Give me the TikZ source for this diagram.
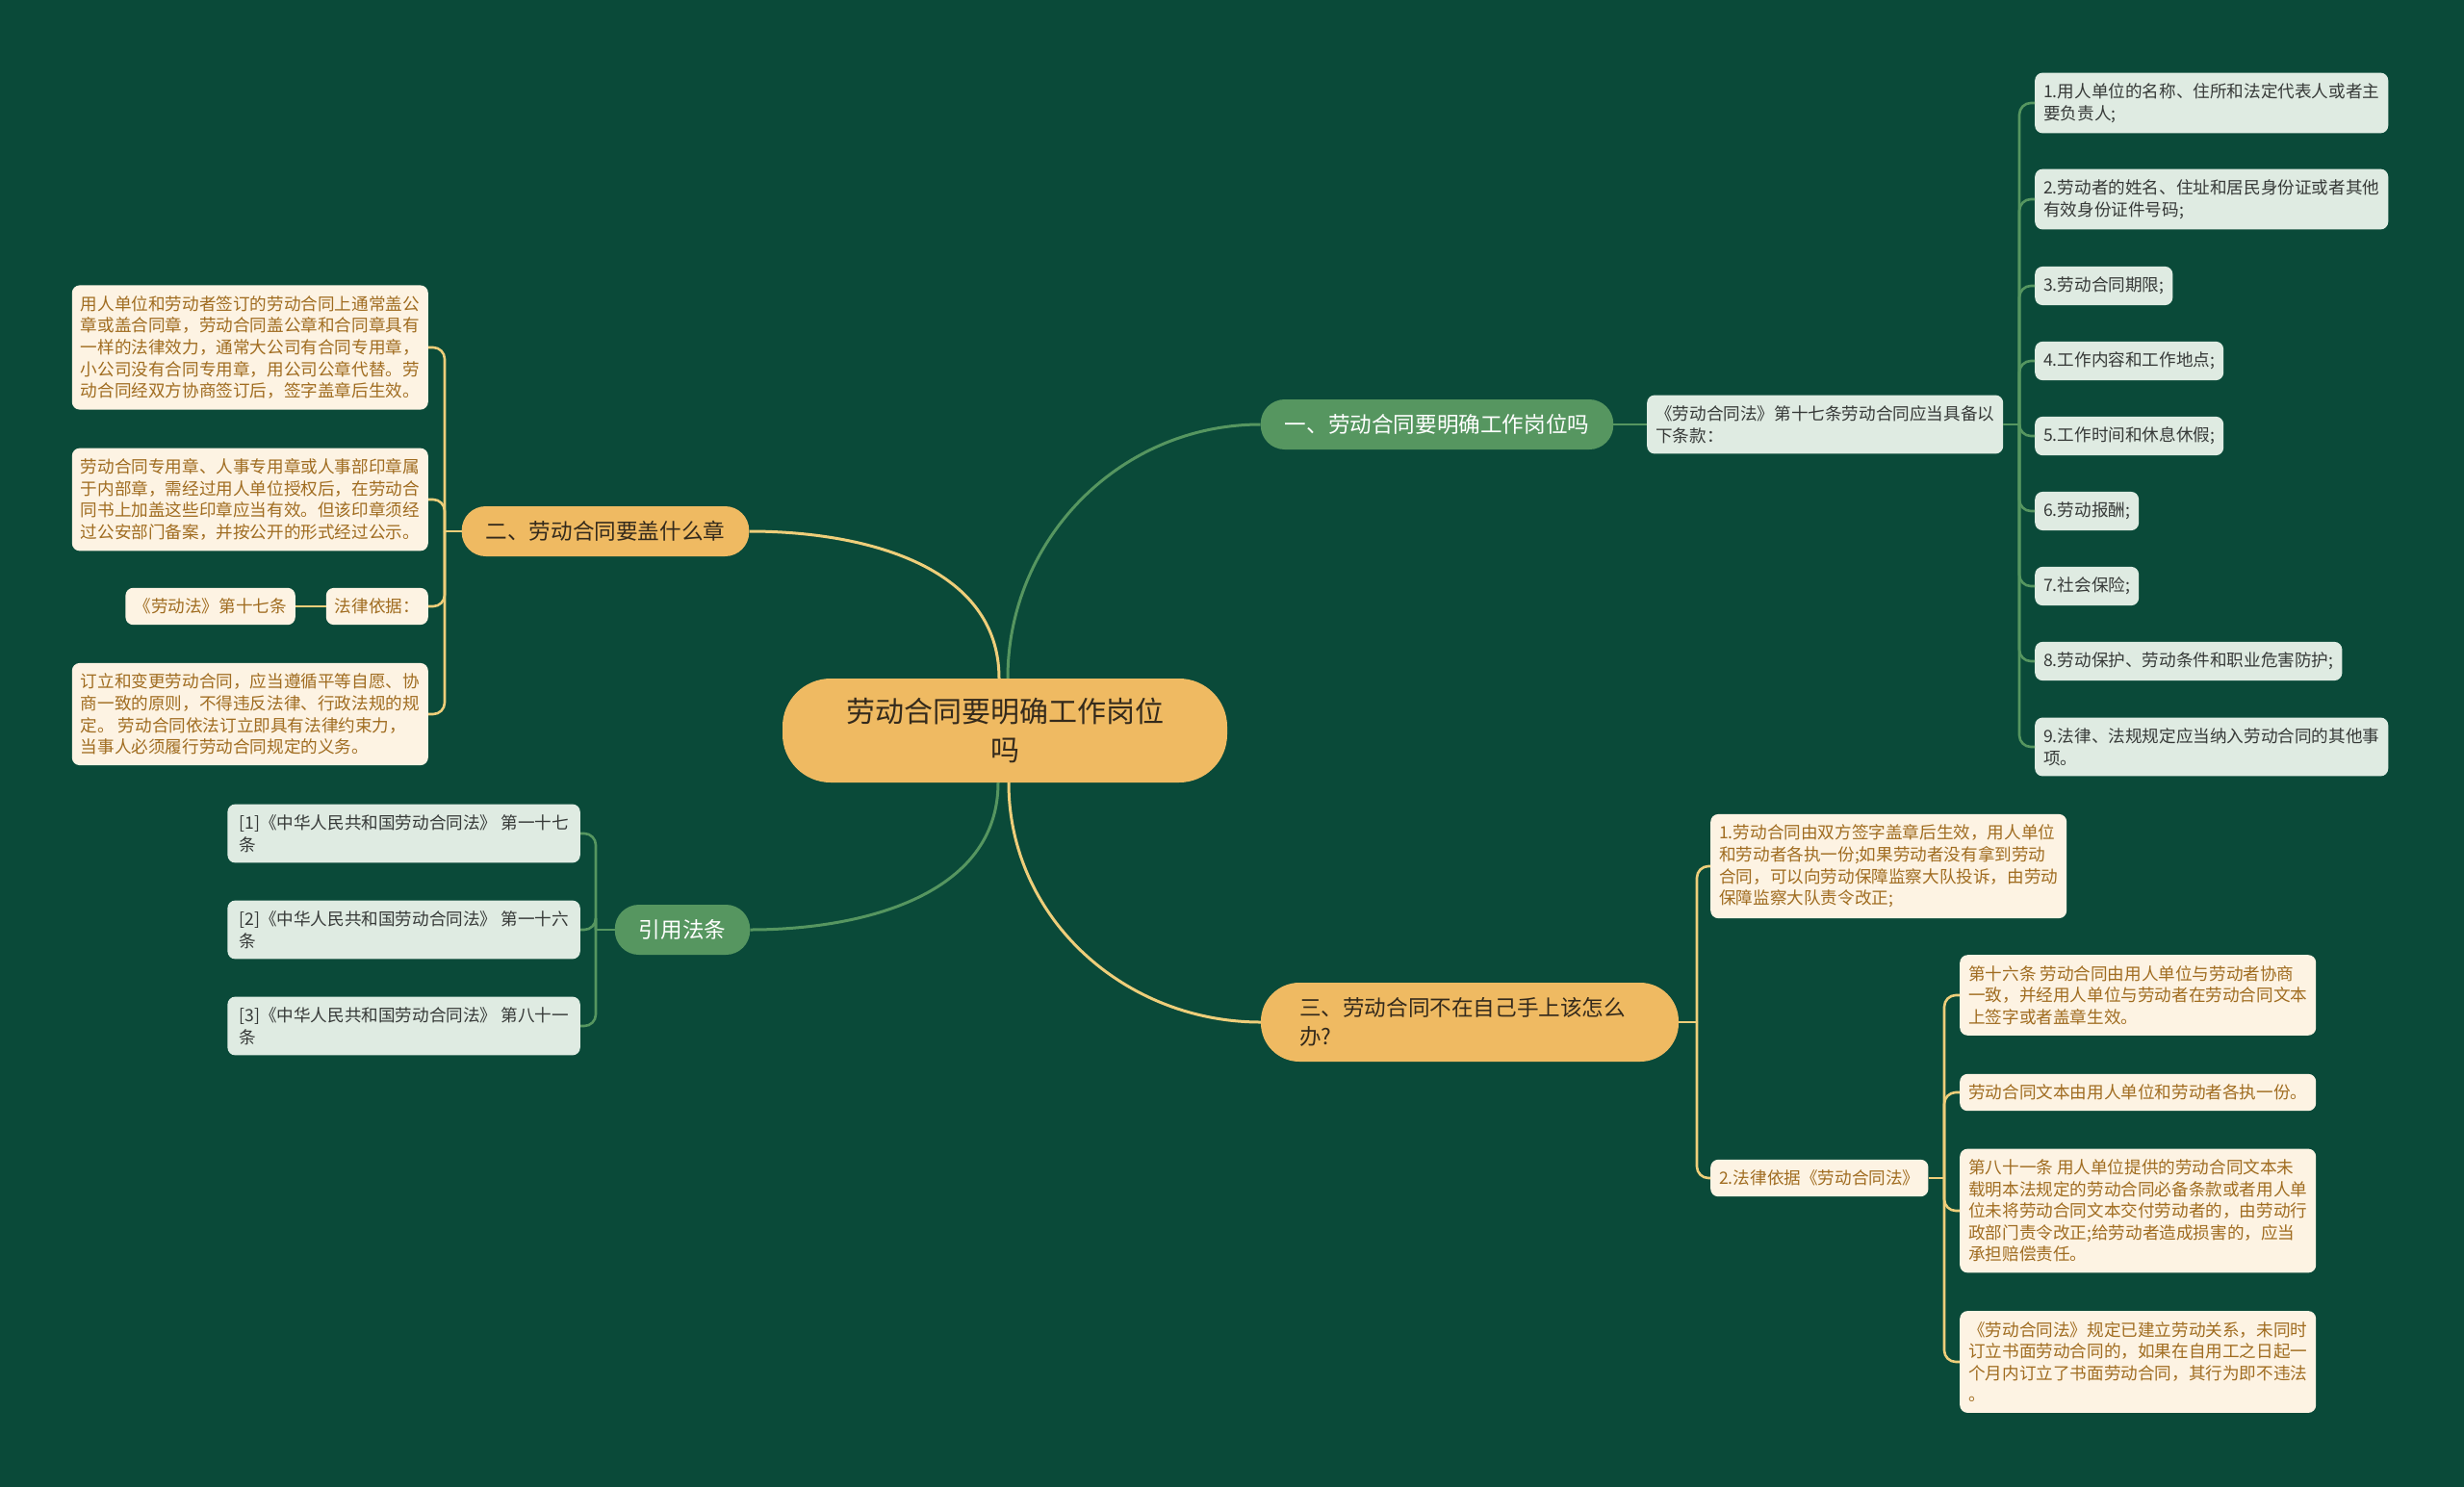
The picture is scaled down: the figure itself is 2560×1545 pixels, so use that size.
\documentclass[tikz,border=0pt]{standalone}
\usepackage{fontspec}
\setmainfont{Noto Sans CJK SC}
\usetikzlibrary{positioning,calc}
\definecolor{forest}{RGB}{10,74,57}
\definecolor{sage}{RGB}{86,150,96}
\definecolor{honey}{RGB}{239,186,98}
\definecolor{straw}{RGB}{238,206,122}
\definecolor{mint}{RGB}{223,235,226}
\definecolor{cream}{RGB}{253,243,227}
\definecolor{bark}{RGB}{160,108,32}
\definecolor{ink}{RGB}{52,42,28}
\definecolor{slate}{RGB}{55,58,56}
\tikzset{
  topic/.style={fill=honey,text=ink,rounded corners=50pt,minimum width=462,
    minimum height=108,align=center,font=\fontsize{30}{40}\selectfont},
  branch/.style={fill=#1,rounded corners=25pt,minimum height=52,inner xsep=25,
    font=\fontsize{22.6}{30}\selectfont},
  branch/.default=sage,
  leaf/.style={fill=#1,rounded corners=8pt,inner xsep=9,inner ysep=11,align=left,
    font=\fontsize{17.6}{22.6}\selectfont},
  note/.style={leaf=mint,text=slate},
  memo/.style={leaf=cream,text=bark},
  link/.style={draw=#1,line width=2.6},
  link/.default=sage,
}
\begin{document}
\begin{tikzpicture}[x=1pt,y=-1pt]
  \fill[forest] (0,0) rectangle (2560,1545);
  \useasboundingbox (0,0) rectangle (2560,1545);

  % centre and main branches
  \node[topic] (root) at (1044,759) {劳动合同要明确工作岗位\\吗};
  \node[branch,text=white] (b1) at (1493,441) {一、劳动合同要明确工作岗位吗};
  \node[branch=honey,text=ink] (b2) at (629,552) {二、劳动合同要盖什么章};
  \node[branch=honey,text=ink,rounded corners=40pt,minimum height=82,inner xsep=40,
    text width=354,align=left] (b3) at (1527,1062) {三、劳动合同不在自己手上该怎么\\办?};
  \node[branch,text=white] (b4) at (709,966) {引用法条};

  \draw[link,line width=3] ([xshift=3]root.north) to[out=90,in=180] (b1.west);
  \draw[link=straw,line width=3] ([xshift=-6]root.north) to[out=90,in=0] (b2.east);
  \draw[link=straw,line width=3] ([xshift=4]root.south) to[out=-90,in=180] (b3.west);
  \draw[link,line width=3] ([xshift=-7]root.south) to[out=-90,in=0] (b4.east);

  % branch one
  \node[note,anchor=west] (law) at (1711,441) {《劳动合同法》第十七条劳动合同应当具备以\\下条款：};
  \draw[link] (b1.east) -- (law.west);
  \coordinate (jr) at (2098,441);
  \draw[link] (law.east) -- (jr);
  \foreach \y/\txt [count=\i] in {
    107/{1.用人单位的名称、住所和法定代表人或者主\\要负责人;},
    207/{2.劳动者的姓名、住址和居民身份证或者其他\\有效身份证件号码;},
    297/{3.劳动合同期限;},
    375/{4.工作内容和工作地点;},
    453/{5.工作时间和休息休假;},
    531/{6.劳动报酬;},
    609/{7.社会保险;},
    687/{8.劳动保护、劳动条件和职业危害防护;},
    776/{9.法律、法规规定应当纳入劳动合同的其他事\\项。}}{
    \node[note,anchor=west] (r\i) at (2114,\y) {\txt};
    \draw[link,rounded corners=12] (jr) |- (r\i.west);
  }

  % branch two
  \node[memo,anchor=east] (s1) at (445,361) {用人单位和劳动者签订的劳动合同上通常盖公\\章或盖合同章，劳动合同盖公章和合同章具有\\一样的法律效力，通常大公司有合同专用章，\\小公司没有合同专用章，用公司公章代替。劳\\动合同经双方协商签订后，签字盖章后生效。};
  \node[memo,anchor=east] (s2) at (445,519) {劳动合同专用章、人事专用章或人事部印章属\\于内部章，需经过用人单位授权后，在劳动合\\同书上加盖这些印章应当有效。但该印章须经\\过公安部门备案，并按公开的形式经过公示。};
  \node[memo,anchor=east] (s3) at (445,630) {法律依据：};
  \node[memo,anchor=east] (s3a) at (307,630) {《劳动法》第十七条};
  \node[memo,anchor=east] (s4) at (445,742) {订立和变更劳动合同，应当遵循平等自愿、协\\商一致的原则，不得违反法律、行政法规的规\\定。 劳动合同依法订立即具有法律约束力，\\当事人必须履行劳动合同规定的义务。};
  \coordinate (jl) at (462,552);
  \draw[link=straw] (b2.west) -- (jl);
  \foreach \n in {s1,s2,s3,s4}
    \draw[link=straw,rounded corners=12] (jl) |- (\n.east);
  \draw[link=straw] (s3.west) -- (s3a.east);

  % cited articles
  \node[note,anchor=east,inner xsep=12] (c1) at (603,866) {[1]《中华人民共和国劳动合同法》 第一十七\\条};
  \node[note,anchor=east,inner xsep=12] (c2) at (603,966) {[2]《中华人民共和国劳动合同法》 第一十六\\条};
  \node[note,anchor=east,inner xsep=12] (c3) at (603,1066) {[3]《中华人民共和国劳动合同法》 第八十一\\条};
  \coordinate (jc) at (619,966);
  \draw[link] (b4.west) -- (jc);
  \foreach \n in {c1,c2,c3}
    \draw[link,rounded corners=12] (jc) |- (\n.east);

  % branch three
  \node[memo,anchor=west] (t1) at (1777,900) {1.劳动合同由双方签字盖章后生效，用人单位\\和劳动者各执一份;如果劳动者没有拿到劳动\\合同，可以向劳动保障监察大队投诉，由劳动\\保障监察大队责令改正;};
  \node[memo,anchor=west] (t2) at (1777,1224) {2.法律依据《劳动合同法》};
  \coordinate (jt) at (1763,1062);
  \draw[link=straw] (b3.east) -- (jt);
  \foreach \n in {t1,t2}
    \draw[link=straw,rounded corners=12] (jt) |- (\n.west);

  \node[memo,anchor=west] (u1) at (2036,1034) {第十六条 劳动合同由用人单位与劳动者协商\\一致，并经用人单位与劳动者在劳动合同文本\\上签字或者盖章生效。};
  \node[memo,anchor=west] (u2) at (2036,1135) {劳动合同文本由用人单位和劳动者各执一份。};
  \node[memo,anchor=west] (u3) at (2036,1258) {第八十一条 用人单位提供的劳动合同文本未\\载明本法规定的劳动合同必备条款或者用人单\\位未将劳动合同文本交付劳动者的，由劳动行\\政部门责令改正;给劳动者造成损害的，应当\\承担赔偿责任。};
  \node[memo,anchor=west] (u4) at (2036,1415) {《劳动合同法》规定已建立劳动关系，未同时\\订立书面劳动合同的，如果在自用工之日起一\\个月内订立了书面劳动合同，其行为即不违法\\。};
  \coordinate (ju) at (2020,1224);
  \draw[link=straw] (t2.east) -- (ju);
  \foreach \n in {u1,u2,u3,u4}
    \draw[link=straw,rounded corners=12] (ju) |- (\n.west);
\end{tikzpicture}
\end{document}
